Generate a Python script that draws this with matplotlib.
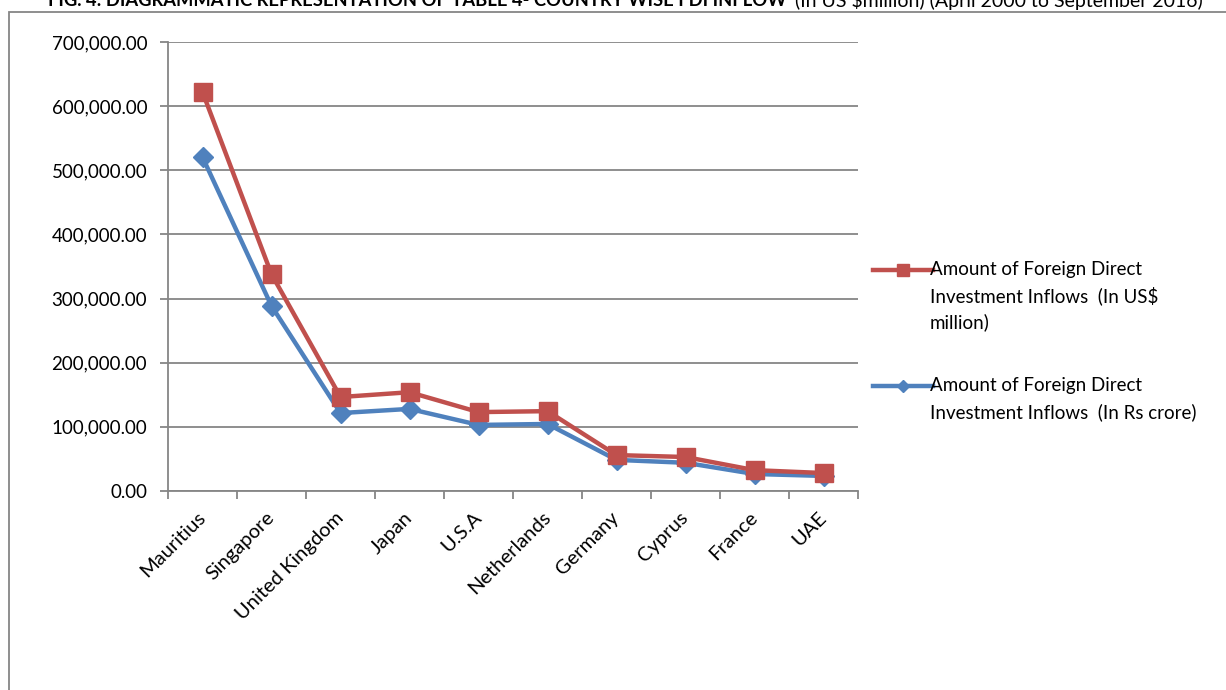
import matplotlib
matplotlib.use("Agg")
import matplotlib.pyplot as plt
from matplotlib.lines import Line2D
from matplotlib.patches import Rectangle
from matplotlib.ticker import FuncFormatter, FixedLocator
import numpy as np

plt.rcParams['font.family'] = ['Lato', 'DejaVu Sans']

# data
countries = ["Mauritius", "Singapore", "United Kingdom", "Japan", "U.S.A",
             "Netherlands", "Germany", "Cyprus", "France", "UAE"]
usd_million = [622000, 338000, 146500, 154000, 123000,
               124500, 56000, 53000, 32500, 28000]
rs_crore = [520500, 288500, 121500, 128000, 103000,
            104500, 48500, 44000, 26500, 23500]

label_usd = ["Amount of Foreign Direct", "Investment Inflows  (In US\\$", "million)"]
label_rs = ["Amount of Foreign Direct", "Investment Inflows  (In Rs crore)"]

title_bold = "FIG. 4: DIAGRAMMATIC REPRESENTATION OF TABLE 4- COUNTRY WISE FDI INFLOW"
title_rest = " (In US \\$million) (April 2000 to September 2016)"

RED = "#C0504D"
BLUE = "#4F81BD"
GRID = "#868686"

W, H = 1226, 690
fig = plt.figure(figsize=(W / 100, H / 100), dpi=100)

# outer chart-area frame (runs off the right and bottom)
fig.patches.append(Rectangle((8.5 / W, -0.1), 1.2, 1 - 11.5 / H + 0.1,
                             transform=fig.transFigure, fill=False,
                             edgecolor=GRID, lw=1.3))

ax = fig.add_axes([168 / W, 1 - 491 / H, 690 / W, 449 / H])
x = np.arange(len(countries))

ax.plot(x, rs_crore, color=BLUE, lw=3.2, marker="D", markersize=10,
        markeredgecolor=BLUE, zorder=3)
ax.plot(x, usd_million, color=RED, lw=3.2, marker="s", markersize=13.5,
        markeredgecolor=RED, zorder=4)

ax.set_xlim(-0.5, len(countries) - 0.5)
ax.set_ylim(0, 700000)
ax.set_yticks(np.arange(0, 700001, 100000))
ax.yaxis.set_major_formatter(FuncFormatter(lambda v, p: "{:,.2f}".format(v)))
ax.yaxis.grid(True, color=GRID, lw=1.3)
ax.set_axisbelow(True)

ax.set_xticks(x)
ax.set_xticklabels(countries, rotation=45, ha="right", va="center",
                   rotation_mode="anchor")
ax.xaxis.set_minor_locator(FixedLocator(np.arange(-0.5, len(countries), 1.0)))
ax.tick_params(axis="x", which="major", length=0, pad=17, labelsize=14.5)
ax.tick_params(axis="x", which="minor", length=6, width=1.3, color=GRID)
ax.tick_params(axis="y", length=6, width=1.3, color=GRID, pad=9, labelsize=13.5)

for s in ["top", "right"]:
    ax.spines[s].set_visible(False)
for s in ["left", "bottom"]:
    ax.spines[s].set_color(GRID)
    ax.spines[s].set_linewidth(1.3)

# legend, handle aligned with first text line like Excel does
def legend_entry(y_px, color, marker, ms, lines):
    yf = 1 - y_px / H
    fig.add_artist(Line2D([873 / W, 933 / W], [yf, yf], color=color, lw=3.2,
                          transform=fig.transFigure))
    fig.add_artist(Line2D([903 / W], [yf], color=color, marker=marker,
                          markersize=ms, transform=fig.transFigure))
    for i, ln in enumerate(lines):
        fig.text(930 / W, 1 - (y_px + 26 * i) / H, ln, fontsize=13.5,
                 va="center", ha="left")

legend_entry(270, RED, "s", 9, label_usd)
legend_entry(386, BLUE, "D", 6.5, label_rs)

# title, partly cut off at the top edge as in the original
t1 = fig.text(48 / W, 1 - 6.5 / H, title_bold, fontweight="bold",
              fontsize=12, va="baseline", ha="left")
fig.canvas.draw()
r = fig.canvas.get_renderer()
w1 = t1.get_window_extent(r).width
t1.set_fontsize(12 * 736 / w1)
t2 = fig.text(790 / W, 1 - 6.5 / H, title_rest, fontsize=12,
              va="baseline", ha="left")
fig.canvas.draw()
w2 = t2.get_window_extent(r).width
t2.set_fontsize(12 * 410 / w2)

fig.savefig("out.png", dpi=100)
